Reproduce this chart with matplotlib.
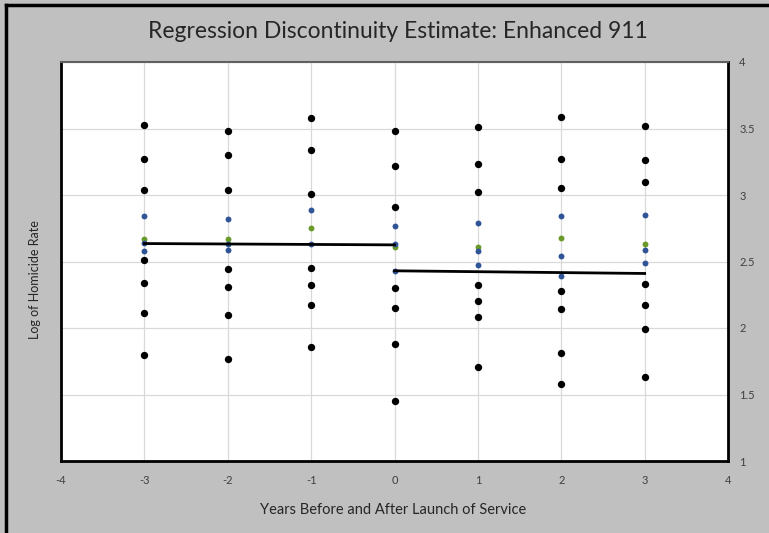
import matplotlib.pyplot as plt
from matplotlib.lines import Line2D

plt.rcParams['axes.unicode_minus'] = False

# years relative to launch
years = [-3, -2, -1, 0, 1, 2, 3]

# black points per year (log homicide rate)
black_vals = [
    [3.53, 3.27, 3.04, 2.51, 2.34, 2.11, 1.80],
    [3.48, 3.30, 3.04, 2.44, 2.31, 2.10, 1.77],
    [3.58, 3.34, 3.01, 2.45, 2.32, 2.17, 1.86],
    [3.48, 3.22, 2.91, 2.30, 2.15, 1.88, 1.45],
    [3.51, 3.23, 3.02, 2.32, 2.20, 2.08, 1.71],
    [3.59, 3.27, 3.05, 2.28, 2.14, 1.81, 1.58],
    [3.52, 3.26, 3.10, 2.33, 2.17, 1.99, 1.63],
]
blue_vals = [
    [2.84, 2.64, 2.58],
    [2.82, 2.63, 2.59],
    [2.89, 2.63],
    [2.77, 2.63, 2.43],
    [2.79, 2.58, 2.47],
    [2.84, 2.54, 2.39],
    [2.85, 2.59, 2.49],
]
green_vals = [2.67, 2.67, 2.75, 2.61, 2.61, 2.68, 2.63]

# fitted lines before / after launch
fit_before_x = [-3, 0]
fit_before_y = [2.635, 2.625]
fit_after_x = [0, 3]
fit_after_y = [2.43, 2.41]

bg = "#c0c0c0"
fig = plt.figure(figsize=(7.69, 5.33), dpi=100, facecolor=bg)
ax = fig.add_axes([61/769, 1-461/533, (728-61)/769, (461-62)/533])
ax.set_facecolor("white")

for yr, vals in zip(years, black_vals):
    ax.scatter([yr]*len(vals), vals, s=28, color="black", zorder=3, linewidths=0)
ax.scatter(years, green_vals, s=18, color="#6a9a2a", zorder=3, linewidths=0)
for yr, vals in zip(years, blue_vals):
    ax.scatter([yr]*len(vals), vals, s=18, color="#2f5597", zorder=4, linewidths=0)

ax.plot(fit_before_x, fit_before_y, color="black", lw=2, zorder=5)
ax.plot(fit_after_x, fit_after_y, color="black", lw=2, zorder=5)

ax.set_xlim(-4, 4)
ax.set_ylim(1, 4)
ax.set_xticks(range(-4, 5))
ax.set_yticks([1, 1.5, 2, 2.5, 3, 3.5, 4])
ax.set_yticklabels(["1", "1.5", "2", "2.5", "3", "3.5", "4"])
ax.yaxis.tick_right()
ax.tick_params(length=0, labelsize=8, colors="#404040", pad=10)
ax.tick_params(axis="y", pad=8)
ax.grid(True, color="#d9d9d9", lw=0.9)
ax.set_axisbelow(True)

for side in ["left", "bottom", "right"]:
    ax.spines[side].set_color("black")
    ax.spines[side].set_linewidth(2)
ax.spines["top"].set_color("#606060")
ax.spines["top"].set_linewidth(1.5)

fig.text(398/769, 1-32/533, "Regression Discontinuity Estimate: Enhanced 911",
         ha="center", va="center", fontsize=16.5, family="Lato", color="#262626")
fig.text(393/769, 1-510/533, "Years Before and After Launch of Service",
         ha="center", va="center", fontsize=10.5, family="Lato", color="#262626")
fig.text(35/769, 1-280/533, "Log of Homicide Rate", rotation=90,
         ha="center", va="center", fontsize=9, family="Lato", color="#262626")
for lab in ax.get_xticklabels() + ax.get_yticklabels():
    lab.set_family("Lato")

# outer frame (left and top edges visible)
fig.add_artist(Line2D([6/769, 6/769], [0, 1-5/533], color="black", lw=2.5))
fig.add_artist(Line2D([6/769, 1], [1-5/533, 1-5/533], color="black", lw=2.5))

fig.savefig("out.png", dpi=100, facecolor=bg)
